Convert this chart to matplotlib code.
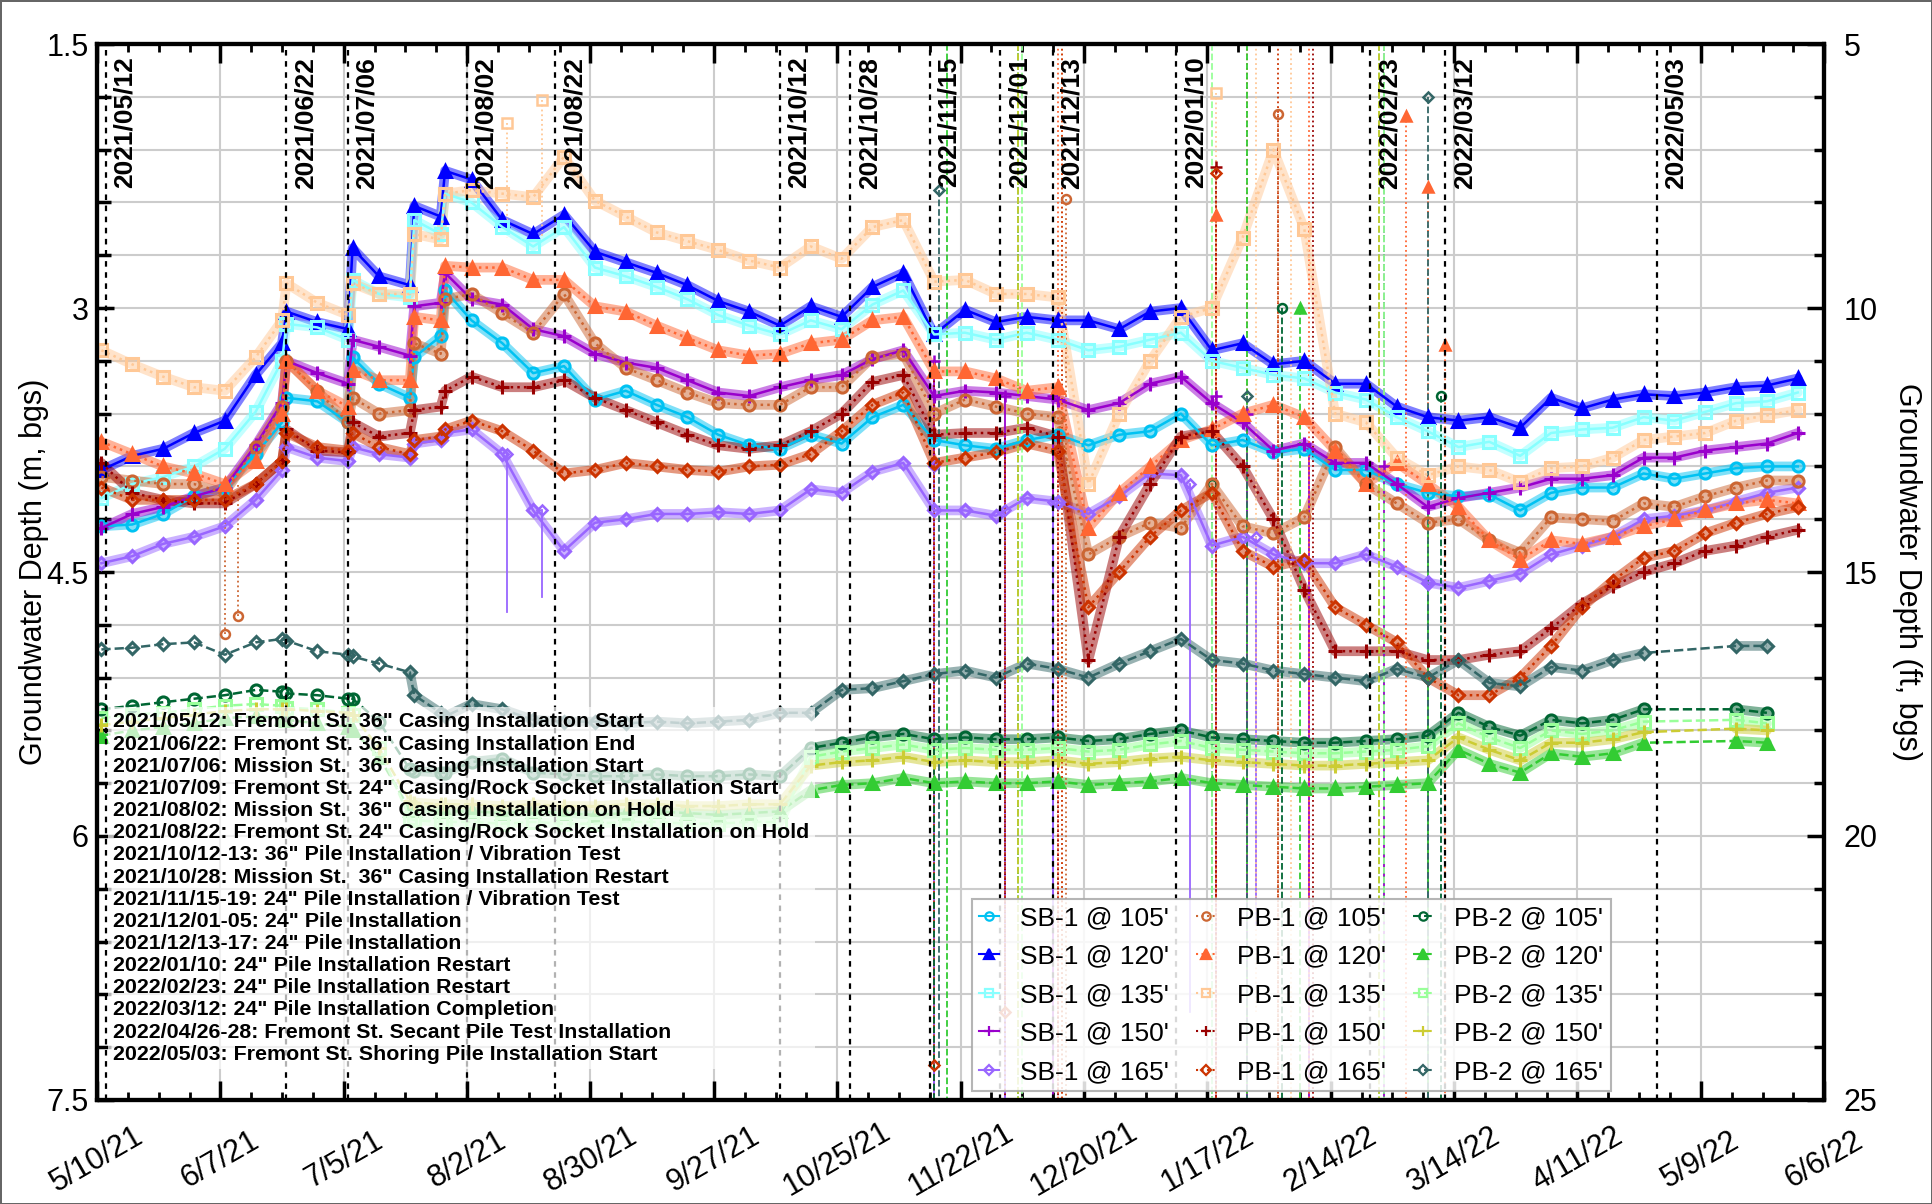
import numpy as np
import pandas as pd
import matplotlib
matplotlib.use('Agg')
import matplotlib.pyplot as plt
import matplotlib.font_manager as fm
from matplotlib.lines import Line2D
from matplotlib.ticker import MultipleLocator, FormatStrFormatter

plt.rcParams['font.family'] = ['Liberation Sans', 'DejaVu Sans']

nan = np.nan

# weekly readings plus a few extra days around the sharp steps
weekly = pd.date_range('2021-05-11', periods=56, freq='7D')
extra = pd.to_datetime(['2021-06-21', '2021-07-07', '2021-07-21', '2021-07-28'])
dates = weekly.append(extra).sort_values()

sb1_105 = [4.24, 4.23, 4.17, 4.07, 4.02, 3.83, 3.65, 3.51, 3.53, 3.65,
           3.28, 3.43, 3.51, 3.28, 3.16, 2.90, 3.07, 3.20, 3.37, 3.33,
           3.52, 3.47, 3.55, 3.62, 3.72, 3.78, 3.80, 3.72, 3.77, 3.62,
           3.55, 3.75, 3.78, 3.80, 3.75, 3.72, 3.78, 3.72, 3.70, 3.60,
           3.78, 3.75, 3.82, 3.80, 3.92, 3.92, 4.00, 4.05, 4.07, 4.06,
           4.15, 4.05, 4.02, 4.02, 3.94, 3.97, 3.94, 3.91, 3.90, 3.90]
sb1_120 = [3.92, 3.84, 3.80, 3.71, 3.64, 3.38, 3.20, 3.02, 3.08, 3.12,
           2.66, 2.82, 2.87, 2.42, 2.48, 2.22, 2.27, 2.50, 2.58, 2.47,
           2.68, 2.74, 2.80, 2.87, 2.96, 3.02, 3.10, 2.99, 3.05, 2.88,
           2.80, 3.15, 3.01, 3.08, 3.05, 3.07, 3.07, 3.12, 3.02, 3.00,
           3.24, 3.20, 3.32, 3.30, 3.43, 3.43, 3.56, 3.62, 3.64, 3.62,
           3.68, 3.51, 3.57, 3.52, 3.49, 3.50, 3.48, 3.45, 3.44, 3.40]
sb1_135 = [4.08, 4.00, 3.96, 3.90, 3.80, 3.59, 3.30, 3.09, 3.11, 3.18,
           2.84, 2.92, 2.94, 2.50, 2.58, 2.35, 2.40, 2.54, 2.65, 2.54,
           2.77, 2.82, 2.88, 2.95, 3.04, 3.10, 3.15, 3.07, 3.12, 2.98,
           2.90, 3.15, 3.14, 3.18, 3.14, 3.18, 3.24, 3.22, 3.18, 3.14,
           3.30, 3.34, 3.38, 3.40, 3.48, 3.52, 3.62, 3.70, 3.79, 3.76,
           3.84, 3.71, 3.69, 3.68, 3.62, 3.64, 3.59, 3.54, 3.53, 3.48]
sb1_150 = [4.25, 4.17, 4.13, 4.07, 4.02, 3.78, 3.54, 3.30, 3.37, 3.43,
           3.18, 3.22, 3.27, 2.99, 2.97, 2.80, 2.95, 2.98, 3.12, 3.16,
           3.26, 3.31, 3.34, 3.41, 3.48, 3.50, 3.45, 3.41, 3.38, 3.29,
           3.24, 3.50, 3.47, 3.48, 3.50, 3.52, 3.58, 3.54, 3.43, 3.39,
           3.54, 3.65, 3.81, 3.77, 3.88, 3.88, 4.00, 4.13, 4.08, 4.05,
           4.02, 3.97, 3.97, 3.95, 3.85, 3.85, 3.81, 3.79, 3.77, 3.71]
sb1_165 = [4.45, 4.41, 4.34, 4.30, 4.24, 4.09, 3.92, 3.79, 3.85, 3.87,
           3.79, 3.83, 3.85, 3.77, 3.75, 3.71, 3.69, 3.83, 4.15, 4.38,
           4.22, 4.20, 4.17, 4.17, 4.16, 4.17, 4.15, 4.03, 4.05, 3.93,
           3.88, 4.15, 4.15, 4.18, 4.08, 4.10, 4.17, 4.07, 3.94, 3.95,
           4.35, 4.30, 4.40, 4.45, 4.45, 4.40, 4.47, 4.56, 4.59, 4.55,
           4.51, 4.40, 4.35, 4.30, 4.20, 4.18, 4.15, 4.10, 4.05, 4.02]

pb1_105 = [3.96, 3.98, 4.00, 4.00, 4.05, 3.79, 3.56, 3.30, 3.47, 3.65,
           3.51, 3.60, 3.58, 3.20, 3.26, 2.95, 2.92, 3.03, 3.14, 2.92,
           3.20, 3.34, 3.41, 3.48, 3.54, 3.55, 3.55, 3.45, 3.45, 3.28,
           3.26, 3.60, 3.52, 3.56, 3.60, 3.62, 4.40, 4.30, 4.22, 4.25,
           4.00, 4.24, 4.28, 4.19, 3.79, 4.00, 4.11, 4.22, 4.20, 4.32,
           4.39, 4.19, 4.20, 4.21, 4.11, 4.13, 4.07, 4.02, 3.98, 3.98]
pb1_120 = [3.76, 3.83, 3.90, 3.94, 4.00, 3.87, 3.60, 3.30, 3.47, 3.56,
           3.35, 3.41, 3.41, 3.05, 3.07, 2.76, 2.77, 2.77, 2.84, 2.84,
           2.99, 3.02, 3.10, 3.17, 3.24, 3.27, 3.26, 3.20, 3.18, 3.07,
           3.05, 3.36, 3.36, 3.40, 3.47, 3.45, 4.25, 4.05, 3.90, 3.75,
           3.69, 3.60, 3.55, 3.62, 3.81, 4.00, 3.88, 4.00, 4.13, 4.32,
           4.43, 4.32, 4.34, 4.30, 4.24, 4.20, 4.15, 4.11, 4.09, 4.11]
pb1_135 = [3.24, 3.32, 3.39, 3.45, 3.47, 3.28, 3.07, 2.86, 2.97, 3.04,
           2.86, 2.92, 2.92, 2.58, 2.61, 2.35, 2.33, 2.35, 2.37, 2.14,
           2.39, 2.48, 2.57, 2.62, 2.67, 2.73, 2.77, 2.65, 2.72, 2.54,
           2.50, 2.85, 2.84, 2.92, 2.92, 2.94, 4.00, 3.60, 3.30, 3.05,
           3.00, 2.60, 2.10, 2.55, 3.60, 3.65, 3.85, 3.95, 3.90, 3.92,
           3.99, 3.91, 3.90, 3.85, 3.75, 3.73, 3.71, 3.64, 3.61, 3.58]
pb1_150 = [3.88, 4.05, 4.09, 4.11, 4.11, 4.00, 3.87, 3.69, 3.81, 3.82,
           3.65, 3.73, 3.71, 3.58, 3.56, 3.47, 3.39, 3.45, 3.45, 3.41,
           3.51, 3.58, 3.65, 3.72, 3.78, 3.80, 3.78, 3.70, 3.60, 3.42,
           3.38, 3.72, 3.71, 3.71, 3.68, 3.73, 5.00, 4.30, 4.00, 3.73,
           3.70, 3.90, 4.20, 4.60, 4.95, 4.95, 4.95, 5.00, 5.00, 4.97,
           4.95, 4.82, 4.68, 4.58, 4.50, 4.45, 4.38, 4.35, 4.30, 4.26]
pb1_165 = [4.02, 4.09, 4.09, 4.09, 4.09, 4.00, 3.87, 3.71, 3.79, 3.81,
           3.71, 3.79, 3.83, 3.75, 3.73, 3.69, 3.64, 3.70, 3.81, 3.94,
           3.92, 3.88, 3.90, 3.92, 3.93, 3.90, 3.89, 3.83, 3.70, 3.55,
           3.48, 3.88, 3.85, 3.82, 3.77, 3.81, 4.70, 4.50, 4.30, 4.15,
           4.05, 4.38, 4.47, 4.43, 4.70, 4.80, 4.90, 5.10, 5.20, 5.20,
           5.10, 4.92, 4.70, 4.55, 4.42, 4.38, 4.28, 4.22, 4.17, 4.13]

pb2_105 = [5.28, 5.26, 5.24, 5.22, 5.20, 5.17, 5.18, 5.19, 5.20, 5.22,
           5.22, 5.35, 5.62, 5.63, 5.64, 5.64, 5.58, 5.56, 5.64, 5.65,
           5.66, 5.66, 5.65, 5.66, 5.66, 5.65, 5.66, 5.50, 5.47, 5.44,
           5.42, 5.45, 5.44, 5.45, 5.45, 5.44, 5.46, 5.45, 5.42, 5.40,
           5.44, 5.45, 5.46, 5.47, 5.47, 5.46, 5.45, 5.43, 5.30, 5.38,
           5.43, 5.34, 5.36, 5.34, 5.28, nan, nan, 5.28, 5.30, nan]
pb2_120 = [5.43, 5.40, 5.38, 5.36, 5.33, 5.32, 5.33, 5.34, 5.36, 5.38,
           5.40, 5.55, 5.85, 5.85, 5.86, 5.86, 5.86, 5.87, 5.86, 5.87,
           5.88, 5.87, 5.86, 5.87, 5.88, 5.87, 5.86, 5.74, 5.71, 5.70,
           5.67, 5.70, 5.69, 5.70, 5.70, 5.69, 5.71, 5.70, 5.69, 5.67,
           5.70, 5.71, 5.72, 5.73, 5.73, 5.72, 5.71, 5.70, 5.51, 5.59,
           5.64, 5.53, 5.55, 5.53, 5.47, nan, nan, 5.46, 5.47, nan]
pb2_135 = [5.33, 5.31, 5.30, 5.28, 5.26, 5.25, 5.26, 5.27, 5.28, 5.30,
           5.31, 5.50, 5.90, 5.91, 5.92, 5.92, 5.92, 5.93, 5.92, 5.93,
           5.93, 5.92, 5.92, 5.93, 5.93, 5.92, 5.92, 5.55, 5.52, 5.50,
           5.48, 5.51, 5.50, 5.51, 5.51, 5.50, 5.52, 5.51, 5.48, 5.46,
           5.50, 5.51, 5.52, 5.53, 5.53, 5.52, 5.51, 5.49, 5.36, 5.44,
           5.50, 5.40, 5.42, 5.40, 5.35, nan, nan, 5.34, 5.36, nan]
pb2_150 = [5.37, 5.35, 5.33, 5.31, 5.29, 5.28, 5.28, 5.28, 5.29, 5.30,
           5.31, 5.50, 5.80, 5.81, 5.82, 5.82, 5.82, 5.83, 5.82, 5.83,
           5.83, 5.82, 5.82, 5.83, 5.83, 5.82, 5.82, 5.60, 5.58, 5.57,
           5.55, 5.58, 5.57, 5.58, 5.58, 5.57, 5.59, 5.58, 5.56, 5.55,
           5.57, 5.58, 5.59, 5.60, 5.60, 5.59, 5.58, 5.57, 5.44, 5.51,
           5.57, 5.47, 5.47, 5.45, 5.41, nan, nan, 5.39, 5.40, nan]
pb2_165 = [4.94, 4.93, 4.91, 4.90, 4.97, 4.90, 4.88, 4.89, 4.95, 4.97,
           4.98, 5.02, 5.07, 5.20, 5.30, 5.32, 5.25, 5.28, 5.34, 5.35,
           5.35, 5.36, 5.35, 5.36, 5.35, 5.34, 5.30, 5.30, 5.17, 5.16,
           5.12, 5.08, 5.06, 5.10, 5.02, 5.05, 5.10, 5.02, 4.95, 4.88,
           5.00, 5.02, 5.06, 5.08, 5.10, 5.12, 5.05, 5.10, 5.00, 5.13,
           5.15, 5.04, 5.06, 5.00, 4.96, nan, nan, 4.92, 4.92, nan]

# PB-2 readings before this day were sparse (no dense band)
pb2_dense_from = pd.Timestamp('2021-07-15')

# vertical excursions during pile driving: (series, date, tip depth, other end)
spikes = [
    ("SB-1 @ 150'", '2021-11-16', 3.3, 7.5), ("SB-1 @ 150'", '2021-12-02', 3.5, 7.5),
    ("SB-1 @ 150'", '2021-12-13', 3.5, 7.5), ("SB-1 @ 150'", '2022-01-19', 3.5, 7.5),
    ("SB-1 @ 150'", '2022-01-26', 3.6, 7.5), ("SB-1 @ 150'", '2022-02-09', 3.8, 7.5),
    ("SB-1 @ 150'", '2022-02-26', 3.9, 7.5),
    ("SB-1 @ 165'", '2021-08-11', 3.83, 4.73), ("SB-1 @ 165'", '2021-08-19', 4.15, 4.64),
    ("SB-1 @ 165'", '2021-11-16', 3.9, 7.5), ("SB-1 @ 165'", '2021-12-02', 4.15, 7.5),
    ("SB-1 @ 165'", '2021-12-13', 4.1, 6.5), ("SB-1 @ 165'", '2022-01-13', 4.0, 7.0),
    ("SB-1 @ 165'", '2022-01-28', 4.3, 6.5), ("SB-1 @ 165'", '2022-03-08', 4.55, 7.5),
    ("PB-1 @ 105'", '2021-06-08', 4.85, 4.0), ("PB-1 @ 105'", '2021-06-11', 4.75, 4.0),
    ("PB-1 @ 105'", '2021-12-16', 2.38, 7.5), ("PB-1 @ 105'", '2022-01-26', 1.5, 7.5),
    ("PB-1 @ 105'", '2022-02-02', 1.90, 7.5),
    ("PB-1 @ 120'", '2021-12-14', 1.5, 7.5), ("PB-1 @ 120'", '2022-01-19', 2.47, 7.5),
    ("PB-1 @ 120'", '2022-02-09', 1.5, 7.5), ("PB-1 @ 120'", '2022-03-03', 1.91, 7.5),
    ("PB-1 @ 120'", '2022-03-08', 2.31, 7.5), ("PB-1 @ 120'", '2022-03-12', 3.21, 7.5),
    ("PB-1 @ 135'", '2021-08-11', 1.95, 2.6), ("PB-1 @ 135'", '2021-08-19', 1.82, 2.6),
    ("PB-1 @ 135'", '2021-12-15', 1.5, 7.5), ("PB-1 @ 135'", '2022-01-19', 1.78, 7.5),
    ("PB-1 @ 135'", '2022-01-28', 1.5, 7.0), ("PB-1 @ 135'", '2022-02-05', 1.5, 7.5),
    ("PB-1 @ 150'", '2021-11-16', 7.5, 3.4), ("PB-1 @ 150'", '2021-12-02', 7.5, 3.7),
    ("PB-1 @ 150'", '2021-12-14', 7.5, 3.7), ("PB-1 @ 150'", '2022-01-19', 2.2, 7.5),
    ("PB-1 @ 150'", '2022-02-10', 1.5, 7.5),
    ("PB-1 @ 165'", '2021-11-16', 7.3, 3.45), ("PB-1 @ 165'", '2021-12-02', 7.0, 3.85),
    ("PB-1 @ 165'", '2021-12-15', 1.5, 7.5), ("PB-1 @ 165'", '2022-01-19', 2.23, 7.5),
    ("PB-1 @ 165'", '2022-02-02', 1.5, 7.5),
    ("PB-2 @ 105'", '2021-11-16', 7.5, 5.45), ("PB-2 @ 105'", '2021-12-05', 1.5, 7.5),
    ("PB-2 @ 105'", '2022-01-18', 4.0, 7.5), ("PB-2 @ 105'", '2022-02-03', 3.0, 7.5),
    ("PB-2 @ 105'", '2022-02-26', 1.5, 7.5), ("PB-2 @ 105'", '2022-03-11', 3.5, 7.5),
    ("PB-2 @ 120'", '2021-11-19', 1.5, 7.5), ("PB-2 @ 120'", '2021-12-05', 1.5, 7.5),
    ("PB-2 @ 120'", '2022-01-26', 1.5, 7.5), ("PB-2 @ 120'", '2022-02-07', 3.0, 7.5),
    ("PB-2 @ 120'", '2022-02-25', 1.5, 7.5), ("PB-2 @ 120'", '2022-03-08', 4.0, 7.5),
    ("PB-2 @ 135'", '2021-12-06', 1.5, 7.5), ("PB-2 @ 135'", '2022-01-18', 1.5, 7.5),
    ("PB-2 @ 135'", '2022-02-26', 1.5, 7.5),
    ("PB-2 @ 150'", '2021-12-05', 1.5, 7.5), ("PB-2 @ 150'", '2022-02-25', 1.5, 7.5),
    ("PB-2 @ 165'", '2021-11-17', 2.33, 7.5), ("PB-2 @ 165'", '2022-01-26', 3.5, 7.5),
    ("PB-2 @ 165'", '2022-03-08', 1.80, 7.5),
]

event_dates = ['2021-05-12', '2021-06-22', '2021-07-06', '2021-08-02', '2021-08-22',
               '2021-10-12', '2021-10-28', '2021-11-15', '2021-12-01', '2021-12-13',
               '2022-01-10', '2022-02-23', '2022-03-12', '2022-04-29']
event_labels = ['2021/05/12', '2021/06/22', '2021/07/06', '2021/08/02', '2021/08/22',
                '2021/10/12', '2021/10/28', '2021/11/15', '2021/12/01', '2021/12/13',
                '2022/01/10', '2022/02/23', '2022/03/12', '2022/05/03']

notes = [
    '2021/05/12: Fremont St. 36" Casing Installation Start',
    '2021/06/22: Fremont St. 36" Casing Installation End',
    '2021/07/06: Mission St.  36" Casing Installation Start',
    '2021/07/09: Fremont St. 24" Casing/Rock Socket Installation Start',
    '2021/08/02: Mission St.  36" Casing Installation on Hold',
    '2021/08/22: Fremont St. 24" Casing/Rock Socket Installation on Hold',
    '2021/10/12-13: 36" Pile Installation / Vibration Test',
    '2021/10/28: Mission St.  36" Casing Installation Restart',
    '2021/11/15-19: 24" Pile Installation / Vibration Test',
    '2021/12/01-05: 24" Pile Installation',
    '2021/12/13-17: 24" Pile Installation',
    '2022/01/10: 24" Pile Installation Restart',
    '2022/02/23: 24" Pile Installation Restart',
    '2022/03/12: 24" Pile Installation Completion',
    '2022/04/26-28: Fremont St. Secant Pile Test Installation',
    '2022/05/03: Fremont St. Shoring Pile Installation Start',
]

# label, values, colour, marker, linestyle, hollow marker
series = [
    ("SB-1 @ 105'", sb1_105, '#00C2F2', 'o', '-', True),
    ("SB-1 @ 120'", sb1_120, '#0000FF', '^', '-', False),
    ("SB-1 @ 135'", sb1_135, '#88FFFF', 's', '-', True),
    ("SB-1 @ 150'", sb1_150, '#9900CC', '+', '-', False),
    ("SB-1 @ 165'", sb1_165, '#9966FF', 'D', '-', True),
    ("PB-1 @ 105'", pb1_105, '#CC6633', 'o', ':', True),
    ("PB-1 @ 120'", pb1_120, '#FF6633', '^', ':', False),
    ("PB-1 @ 135'", pb1_135, '#FFC896', 's', ':', True),
    ("PB-1 @ 150'", pb1_150, '#990000', '+', ':', False),
    ("PB-1 @ 165'", pb1_165, '#CC3300', 'D', ':', True),
    ("PB-2 @ 105'", pb2_105, '#006633', 'o', '--', True),
    ("PB-2 @ 120'", pb2_120, '#33CC33', '^', '--', False),
    ("PB-2 @ 135'", pb2_135, '#99FF99', 's', '--', True),
    ("PB-2 @ 150'", pb2_150, '#CCCC33', '+', '--', False),
    ("PB-2 @ 165'", pb2_165, '#336666', 'D', '--', True),
]
msize = {'o': 8, '^': 9, 's': 8.5, '+': 10, 'D': 6.5}

fig = plt.figure(figsize=(19.32, 12.04), dpi=100)
fig.patch.set_edgecolor('#666666')
fig.patch.set_linewidth(2)
ax = fig.add_axes([0.0502, 0.0864, 0.894, 0.877])

styles = {}
handles = []
for lab, vals, col, mk, ls, hollow in series:
    v = np.asarray(vals, dtype=float)
    ok = ~np.isnan(v)
    d = dates[ok]
    v = v[ok]
    # thick band only over continuous, densely logged stretches
    bd, bv = [], []
    for t, y in zip(d, v):
        if lab.startswith('PB-2') and t < pb2_dense_from:
            continue
        if bd and (t - bd[-1]).days > 8:
            bd.append(bd[-1] + pd.Timedelta(days=1))
            bv.append(np.nan)
        bd.append(t)
        bv.append(y)
    ax.plot(bd, bv, color=col, lw=7, alpha=0.5, solid_capstyle='round', zorder=2)
    mfc = 'none' if hollow else col
    ax.plot(d, v, color=col, ls=ls, lw=1.8, marker=mk, ms=msize[mk], mfc=mfc,
            mec=col, mew=2.2, zorder=3)
    styles[lab] = (col, mk, ls, mfc)
    handles.append(Line2D([], [], color=col, ls=ls, lw=1.5, marker=mk, ms=msize[mk] * 0.75,
                          mfc=mfc, mec=col, mew=1.6))

for lab, day, tip, end in spikes:
    col, mk, ls, mfc = styles[lab]
    t = pd.Timestamp(day)
    ax.plot([t, t], [tip, end], color=col, ls=ls, lw=1.3, zorder=2.6)
    if 1.5 < tip < 7.5:
        ax.plot([t], [tip], color=col, marker=mk, ms=msize[mk] * 0.8, mfc=mfc, mec=col,
                mew=1.8, zorder=2.7)

for day, lab in zip(event_dates, event_labels):
    t = pd.Timestamp(day)
    ax.axvline(t, color='black', ls=(0, (2.5, 2.5)), lw=1.6, zorder=4)
    ax.annotate(lab, xy=(t, 0.988), xycoords=('data', 'axes fraction'),
                xytext=(5, 0), textcoords='offset points', rotation=90,
                ha='left', va='top', fontsize=19, fontweight='bold', zorder=4)

ax.set_xlim(pd.Timestamp('2021-05-10'), pd.Timestamp('2022-06-06'))
ax.set_ylim(7.5, 1.5)
major = pd.date_range('2021-05-10', '2022-06-06', freq='28D')
minor = pd.date_range('2021-05-10', '2022-06-06', freq='7D')
ax.set_xticks(major)
ax.set_xticks(minor, minor=True)
ax.set_xticklabels([f"{t.month}/{t.day}/{t.strftime('%y')}" for t in major],
                   rotation=30, ha='center', va='center', rotation_mode='anchor', fontsize=22)
ax.set_yticks([1.5, 3, 4.5, 6, 7.5])
ax.yaxis.set_minor_locator(MultipleLocator(0.3))
ax.yaxis.set_major_formatter(FormatStrFormatter('%g'))
ax.tick_params(axis='y', labelsize=22, direction='in', length=12, width=2.5, pad=6, right=False)
ax.tick_params(axis='y', which='minor', direction='in', length=10, width=2.5, right=False)
ax.tick_params(axis='x', which='major', direction='in', length=14, width=2.5, pad=43, top=True)
ax.tick_params(axis='x', which='minor', direction='in', length=6, width=2, top=True)
ax.grid(which='both', axis='y', color='#CCCCCC', lw=1.5)
ax.grid(which='major', axis='x', color='#CCCCCC', lw=1.5)
ax.set_axisbelow(True)
for s in ax.spines.values():
    s.set_linewidth(3)
ax.set_ylabel('Groundwater Depth (m, bgs)', fontsize=22, labelpad=-2)

ax2 = ax.twinx()
ax2.set_ylim(25, 5)
ax2.set_yticks([5, 10, 15, 20, 25])
ax2.yaxis.set_minor_locator(MultipleLocator(1))
ax2.tick_params(axis='y', labelsize=22, direction='in', length=12, width=2.5, pad=14)
ax2.tick_params(axis='y', which='minor', direction='in', length=7, width=2.5)
for s in ax2.spines.values():
    s.set_linewidth(3)
ax2.set_ylabel('Groundwater Depth (ft, bgs)', fontsize=22, rotation=270, va='bottom', labelpad=10)

try:
    fm.findfont(fm.FontProperties(family='Liberation Sans Narrow', weight='bold'),
                fallback_to_default=False)
    note_family, note_size, note_ls = ['Liberation Sans Narrow', 'DejaVu Sans'], 18, 1.05
except ValueError:
    note_family, note_size, note_ls = ['Liberation Sans', 'DejaVu Sans'], 15.4, 1.21

ax.text(0.0093, 0.367, '\n'.join(notes), transform=ax.transAxes, ha='left', va='top',
        fontsize=note_size, fontweight='bold', family=note_family, linespacing=note_ls,
        bbox=dict(boxstyle='square,pad=0.25', fc='white', ec='none', alpha=0.7), zorder=6)

leg = ax.legend(handles, [s[0] for s in series], ncol=3, loc='lower left',
                bbox_to_anchor=(0.5067, 0.0085), borderaxespad=0, fontsize=19,
                fancybox=False, edgecolor='#A8A8A8', framealpha=0.85, handlelength=0.75,
                handletextpad=0.8, columnspacing=1.03, labelspacing=0.55, borderpad=0.27)
leg.get_frame().set_linewidth(1.5)
leg.set_zorder(7)

fig.savefig('out.png', dpi=100)
